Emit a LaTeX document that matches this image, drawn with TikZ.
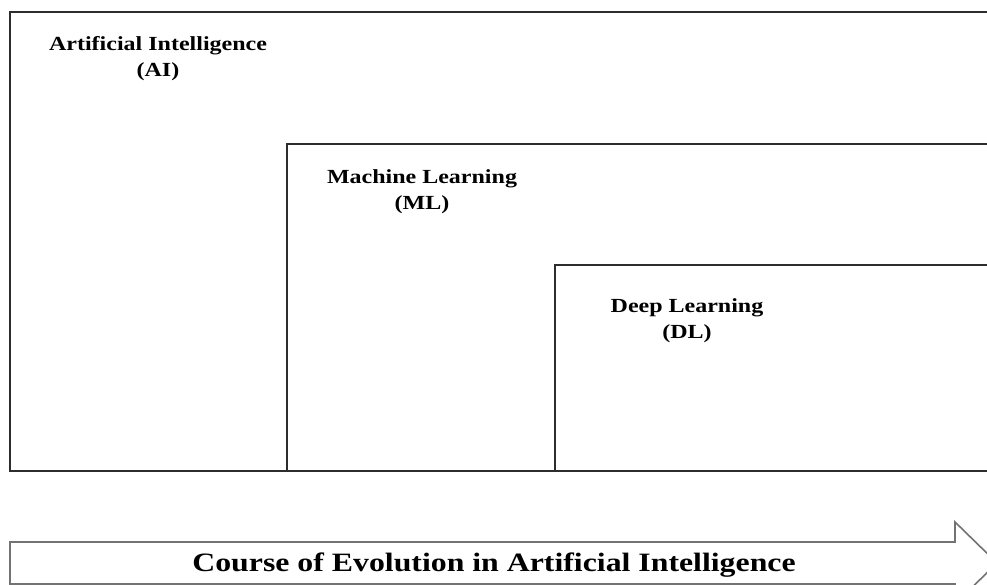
\documentclass[tikz,border=0pt]{standalone}
\usepackage{fontspec}
\setmainfont{Liberation Serif}[FakeStretch=1.2]
\usepackage{xcolor}
\usepackage{tikz}
\usetikzlibrary{calc}
\definecolor{boxgray}{RGB}{45, 45, 45}
\definecolor{arrowgray}{RGB}{115, 115, 115}

\begin{document}
\begin{tikzpicture}[x=1pt, y=-1pt,
    layer/.style={draw=boxgray, line width=1.2pt},
    layerlabel/.style={font=\bfseries\fontsize{20}{26}\selectfont, align=center, inner sep=0pt}]
    % Page frame
    \useasboundingbox (0,0) rectangle (987,585);
    \fill[white] (0,0) rectangle (987,585);
    \clip (0,0) rectangle (987,585);

    % Nested fields (open to the right)
    \draw[layer] (10,12) rectangle (1010,471);
    \draw[layer] (287,144) rectangle (1010,471);
    \draw[layer] (555,265) rectangle (1010,471);

    % Field names
    \node[layerlabel] (ai) at (158,59) {Artificial Intelligence\\(AI)};
    \node[layerlabel] (ml) at (422,192) {Machine Learning\\(ML)};
    \node[layerlabel] (dl) at (687,321) {Deep Learning\\(DL)};

    % Evolution arrow
    \draw[draw=arrowgray, line width=1.6pt, line join=miter]
        (10,542) -- (955,542) -- (955,522) -- (997,563) -- (955,604)
        -- (955,584) -- (10,584) -- cycle;
    \node[font=\bfseries\fontsize{26.5}{30}\selectfont, inner sep=0pt] (course) at (494,565)
        {Course of Evolution in Artificial Intelligence};
\end{tikzpicture}
\end{document}
